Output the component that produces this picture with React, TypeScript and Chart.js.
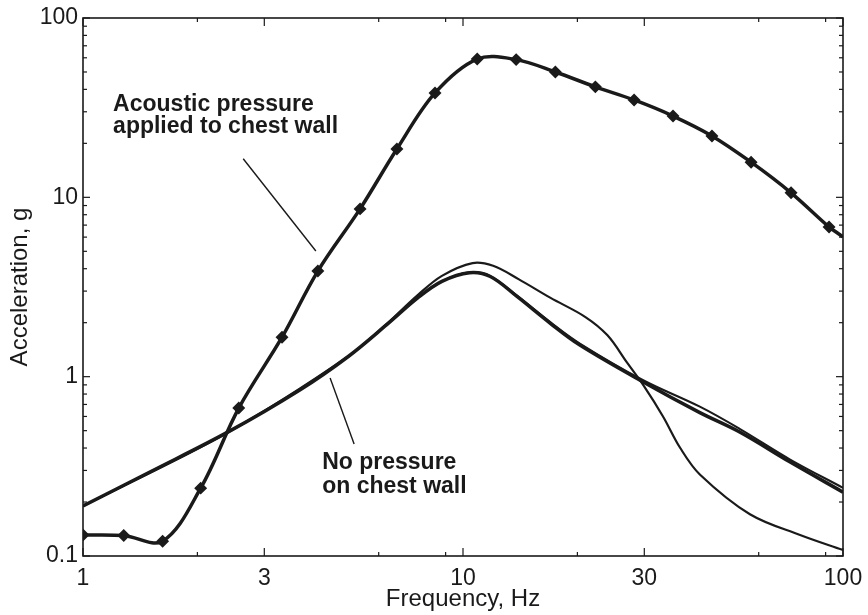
import React, { useEffect, useRef } from "react";
import { Chart, registerables } from "chart.js";

Chart.register(...registerables);

// Acoustic pressure applied to chest wall (measured, with markers)
const acousticFreq = [1.0, 1.28, 1.62, 2.04, 2.57, 3.34, 4.15, 5.36, 6.7, 8.44, 10.9, 13.8, 17.5, 22.3, 28.2, 35.7, 45.2, 57.3, 73.0, 91.9, 100];
const acousticAcc = [0.131, 0.13, 0.121, 0.239, 0.668, 1.66, 3.88, 8.62, 18.6, 38.2, 59.0, 58.6, 50.0, 41.3, 34.9, 28.4, 22.0, 15.7, 10.6, 6.84, 6.02];

// No pressure on chest wall: thick model curve
const modelFreq = [1.0, 1.5, 2.41, 3.72, 5.0, 6.3, 7.6, 8.8, 10.4, 11.8, 13.87, 16.94, 20.3, 29.8, 42.0, 53.6, 72.6, 100];
const modelAcc = [0.19, 0.294, 0.492, 0.843, 1.3, 1.95, 2.75, 3.4, 3.8, 3.62, 2.8, 1.99, 1.5, 0.934, 0.63, 0.49, 0.334, 0.227];

// No pressure: thin curve with shoulder and steep drop
const dropFreq = [1.0, 2.41, 5.0, 6.3, 7.6, 8.8, 10.6, 12.0, 14.0, 17.0, 21.0, 24.0, 27.0, 30.0, 33.6, 37.3, 42.0, 56.9, 77.1, 100];
const dropAcc = [0.19, 0.49, 1.3, 1.97, 2.85, 3.65, 4.3, 4.15, 3.5, 2.75, 2.15, 1.7, 1.2, 0.88, 0.6, 0.4, 0.285, 0.171, 0.131, 0.108];

// No pressure: thin curve close to the model curve
const nearFreq = [1.0, 1.5, 2.41, 3.72, 5.0, 6.3, 7.6, 8.8, 10.4, 11.8, 13.87, 16.94, 20.3, 29.8, 42.0, 53.6, 72.6, 100];
const nearAcc = [0.19, 0.294, 0.492, 0.843, 1.3, 1.95, 2.75, 3.4, 3.82, 3.64, 2.83, 2.02, 1.53, 0.955, 0.68, 0.51, 0.345, 0.24];

// Axis ticks
const xTickLabels = [1, 3, 10, 30, 100];
const xMinorTicks = [2, 6, 9, 20, 60, 90];
const yTickLabels = [0.1, 1, 10, 100];
const yMinorTicks = [0.2, 0.3, 0.4, 0.5, 0.6, 0.7, 0.8, 0.9, 2, 3, 4, 5, 6, 7, 8, 9, 20, 30, 40, 50, 60, 70, 80, 90];

// Annotations (data coordinates)
const note1Lines = ["Acoustic pressure", "applied to chest wall"];
const note1Anchor = [1.2, 30.3];
const note1Leader = [[2.64, 16.4], [4.1, 5.02]];
const note2Lines = ["No pressure", "on chest wall"];
const note2Anchor = [4.26, 0.305];
const note2Leader = [[4.47, 0.983], [5.17, 0.421]];

const INK = "#1a1a1a";
const FONT = "'Liberation Sans', Arial, Helvetica, sans-serif";

const toPts = (xs: number[], ys: number[]) => xs.map((x, i) => ({ x, y: ys[i] }));

const framePlugin = {
  id: "framePlugin",
  afterDraw(chart: any) {
    const { ctx, chartArea } = chart;
    const { left, right, top, bottom } = chartArea;
    const xs = chart.scales.x;
    const ys = chart.scales.y;
    ctx.save();
    ctx.strokeStyle = INK;
    ctx.lineWidth = 1.6;
    ctx.strokeRect(left, top, right - left, bottom - top);
    ctx.lineWidth = 1.2;
    const seg = (x1: number, y1: number, x2: number, y2: number) => {
      ctx.beginPath();
      ctx.moveTo(x1, y1);
      ctx.lineTo(x2, y2);
      ctx.stroke();
    };
    for (const v of xMinorTicks) {
      const p = xs.getPixelForValue(v);
      seg(p, bottom, p, bottom - 4);
      seg(p, top, p, top + 4);
    }
    for (const v of xTickLabels) {
      const p = xs.getPixelForValue(v);
      seg(p, bottom, p, bottom - 8);
      seg(p, top, p, top + 8);
    }
    for (const v of yMinorTicks) {
      const p = ys.getPixelForValue(v);
      seg(left, p, left + 4, p);
      seg(right, p, right - 4, p);
    }
    for (const v of yTickLabels) {
      const p = ys.getPixelForValue(v);
      seg(left, p, left + 7, p);
      seg(right, p, right - 7, p);
    }

    // leader lines
    ctx.lineWidth = 1.4;
    for (const L of [note1Leader, note2Leader]) {
      seg(
        xs.getPixelForValue(L[0][0]), ys.getPixelForValue(L[0][1]),
        xs.getPixelForValue(L[1][0]), ys.getPixelForValue(L[1][1])
      );
    }
    // notes
    ctx.fillStyle = INK;
    ctx.font = `bold 23px ${FONT}`;
    ctx.textAlign = "left";
    ctx.textBaseline = "alphabetic";
    const drawNote = (lines: string[], anchor: number[], gap: number) => {
      const x = xs.getPixelForValue(anchor[0]);
      const y = ys.getPixelForValue(anchor[1]);
      lines.forEach((t, i) => ctx.fillText(t, x, y + i * gap));
    };
    drawNote(note1Lines, note1Anchor, 22);
    drawNote(note2Lines, note2Anchor, 24);
    ctx.restore();
  },
};

export default function App() {
  const ref = useRef<HTMLCanvasElement | null>(null);
  useEffect(() => {
    document.body.style.margin = "0";
    const canvas = ref.current;
    if (!canvas) return;
    const chart = new Chart(canvas, {
      type: "line",
      data: {
        datasets: [
          {
            label: "Acoustic pressure applied to chest wall",
            data: toPts(acousticFreq, acousticAcc),
            borderColor: INK,
            backgroundColor: INK,
            borderWidth: 3.5,
            pointStyle: "rectRot",
            pointRadius: (c: any) => (c.dataIndex < acousticFreq.length - 1 ? 4 : 0),
            tension: 0.35,
          },
          {
            label: "No pressure (model)",
            data: toPts(modelFreq, modelAcc),
            borderColor: INK,
            borderWidth: 3.5,
            pointRadius: 0,
            tension: 0.35,
          },
          {
            label: "No pressure (measured)",
            data: toPts(dropFreq, dropAcc),
            borderColor: INK,
            borderWidth: 2.2,
            pointRadius: 0,
            tension: 0.35,
          },
          {
            label: "No pressure (near)",
            data: toPts(nearFreq, nearAcc),
            borderColor: INK,
            borderWidth: 2,
            pointRadius: 0,
            tension: 0.35,
          },
        ],
      },
      options: {
        animation: false,
        responsive: true,
        maintainAspectRatio: false,
        parsing: false as any,
        layout: { padding: { top: 18, right: 25, left: 0, bottom: 0 } },
        plugins: { legend: { display: false }, tooltip: { enabled: false } },
        scales: {
          x: {
            type: "logarithmic",
            min: 1,
            max: 100,
            afterBuildTicks: (s: any) => {
              s.ticks = xTickLabels.map((v) => ({ value: v }));
            },
            afterFit: (s: any) => {
              s.height = 59;
              s.paddingLeft = 0;
              s.paddingRight = 0;
            },
            grid: { display: false, drawTicks: false },
            border: { display: false },
            ticks: {
              autoSkip: false,
              maxRotation: 0,
              padding: 9,
              color: INK,
              font: { family: FONT, size: 23 },
              callback: (v: any) => String(v),
            },
            title: {
              display: true,
              text: "Frequency, Hz",
              color: INK,
              font: { family: FONT, size: 24 },
              padding: { top: 0, bottom: 1 },
            },
          },
          y: {
            type: "logarithmic",
            min: 0.1,
            max: 100,
            afterBuildTicks: (s: any) => {
              s.ticks = yTickLabels.map((v) => ({ value: v }));
            },
            afterFit: (s: any) => {
              s.width = 83;
              s.paddingTop = 0;
              s.paddingBottom = 0;
            },
            grid: { display: false, drawTicks: false },
            border: { display: false },
            ticks: {
              autoSkip: false,
              padding: 5,
              color: INK,
              font: { family: FONT, size: 23 },
              callback: (v: any) => String(v),
            },
            title: {
              display: true,
              text: "Acceleration, g",
              color: INK,
              font: { family: FONT, size: 24 },
              padding: { top: 6, bottom: 0 },
            },
          },
        },
      },
      plugins: [framePlugin],
    } as any);
    return () => chart.destroy();
  }, []);
  return (
    <div style={{ width: 868, height: 615, position: "relative", background: "#fff" }}>
      <canvas ref={ref} />
    </div>
  );
}
